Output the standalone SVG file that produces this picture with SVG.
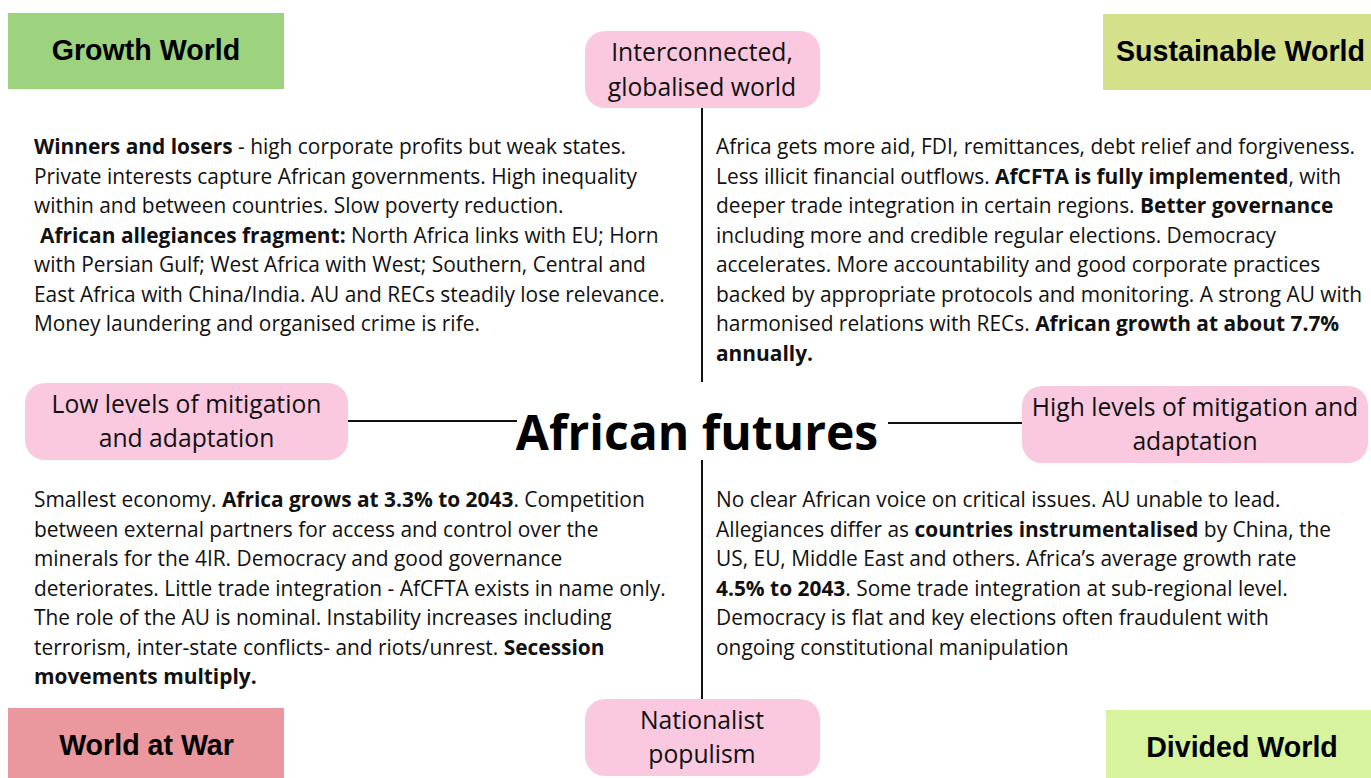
<svg xmlns="http://www.w3.org/2000/svg" width="1371" height="778" viewBox="0 0 1371 778">
  <style>
    .hdr { font-family: "Liberation Sans", Arial, sans-serif; font-weight: bold; font-size: 28.6px; fill: #000; text-anchor: middle; }
    .pill { fill: #fbc9df; }
    .pt { font-family: "Open Sans", "DejaVu Sans", sans-serif; font-size: 24.7px; fill: #111; text-anchor: middle; }
    .body { font-family: "Open Sans", "DejaVu Sans", sans-serif; font-size: 20.9px; fill: #111; }
    .b { font-weight: bold; }
    .title { font-family: "Open Sans", "DejaVu Sans", sans-serif; font-weight: bold; font-size: 48px; fill: #000; text-anchor: middle; }
    .conn { stroke: #111; stroke-width: 2; fill: none; }
  </style>
  <rect width="1371" height="778" fill="#fff"/>

  <!-- connectors from the central title to the four axis labels -->
  <g id="connectors">
    <line class="conn" x1="702" y1="108" x2="702" y2="382"/>
    <line class="conn" x1="702" y1="460" x2="702" y2="699"/>
    <line class="conn" x1="348" y1="421" x2="517" y2="421"/>
    <line class="conn" x1="888" y1="423" x2="1022" y2="423"/>
  </g>

  <g id="title">
    <text class="title" x="697" y="450">African futures</text>
  </g>

  <!-- corner scenario headers -->
  <g id="growth-world">
    <rect x="8" y="13" width="276" height="76" fill="#9dd37f"/>
    <text class="hdr" x="146" y="60">Growth World</text>
  </g>
  <g id="sustainable-world">
    <rect x="1103" y="14" width="268" height="76" fill="#d4e08a"/>
    <text class="hdr" x="1240.5" y="61">Sustainable World</text>
  </g>
  <g id="world-at-war">
    <rect x="8" y="708" width="276" height="70" fill="#ea979e"/>
    <text class="hdr" x="146.5" y="755">World at War</text>
  </g>
  <g id="divided-world">
    <rect x="1106" y="710" width="265" height="68" fill="#d7f39e"/>
    <text class="hdr" x="1242" y="757">Divided World</text>
  </g>

  <!-- axis labels -->
  <g id="interconnected">
    <rect class="pill" x="585" y="31" width="235" height="77" rx="20"/>
    <text class="pt" x="702" y="61">Interconnected,</text>
    <text class="pt" x="702" y="96">globalised world</text>
  </g>
  <g id="nationalist">
    <rect class="pill" x="585" y="699" width="235" height="77" rx="20"/>
    <text class="pt" x="702" y="729">Nationalist</text>
    <text class="pt" x="702" y="763">populism</text>
  </g>
  <g id="low-mitigation">
    <rect class="pill" x="25" y="383" width="323" height="77" rx="20"/>
    <text class="pt" x="186.5" y="413">Low levels of mitigation</text>
    <text class="pt" x="186.5" y="447">and adaptation</text>
  </g>
  <g id="high-mitigation">
    <rect class="pill" x="1022" y="386" width="346" height="77" rx="20"/>
    <text class="pt" x="1195" y="416">High levels of mitigation and</text>
    <text class="pt" x="1195" y="450">adaptation</text>
  </g>

  <!-- scenario descriptions -->
  <g id="growth-text">
    <text class="body" x="34" y="154"><tspan class="b">Winners and losers</tspan> - high corporate profits but weak states.</text>
    <text class="body" x="34" y="183.5">Private interests capture African governments. High inequality</text>
    <text class="body" x="34" y="213">within and between countries. Slow poverty reduction.</text>
    <text class="body" x="34" y="242.5"> <tspan class="b" x="40">African allegiances fragment:</tspan> North Africa links with EU; Horn</text>
    <text class="body" x="34" y="272">with Persian Gulf; West Africa with West; Southern, Central and</text>
    <text class="body" x="34" y="301.5">East Africa with China/India. AU and RECs steadily lose relevance.</text>
    <text class="body" x="34" y="331">Money laundering and organised crime is rife.</text>
  </g>
  <g id="sustainable-text">
    <text class="body" x="716" y="154">Africa gets more aid, FDI, remittances, debt relief and forgiveness.</text>
    <text class="body" x="716" y="183.5">Less illicit financial outflows. <tspan class="b">AfCFTA is fully implemented</tspan>, with</text>
    <text class="body" x="716" y="213">deeper trade integration in certain regions. <tspan class="b">Better governance</tspan></text>
    <text class="body" x="716" y="242.5">including more and credible regular elections. Democracy</text>
    <text class="body" x="716" y="272">accelerates. More accountability and good corporate practices</text>
    <text class="body" x="716" y="301.5">backed by appropriate protocols and monitoring. A strong AU with</text>
    <text class="body" x="716" y="331">harmonised relations with RECs. <tspan class="b">African growth at about 7.7%</tspan></text>
    <text class="body b" x="716" y="360.5">annually.</text>
  </g>
  <g id="war-text">
    <text class="body" x="34" y="507">Smallest economy. <tspan class="b">Africa grows at 3.3% to 2043</tspan>. Competition</text>
    <text class="body" x="34" y="536.5">between external partners for access and control over the</text>
    <text class="body" x="34" y="566">minerals for the 4IR. Democracy and good governance</text>
    <text class="body" x="34" y="595.5">deteriorates. Little trade integration - AfCFTA exists in name only.</text>
    <text class="body" x="34" y="625">The role of the AU is nominal. Instability increases including</text>
    <text class="body" x="34" y="654.5">terrorism, inter-state conflicts- and riots/unrest. <tspan class="b">Secession</tspan></text>
    <text class="body b" x="34" y="684">movements multiply.</text>
  </g>
  <g id="divided-text">
    <text class="body" x="716" y="507">No clear African voice on critical issues. AU unable to lead.</text>
    <text class="body" x="716" y="536.5">Allegiances differ as <tspan class="b">countries instrumentalised</tspan> by China, the</text>
    <text class="body" x="716" y="566">US, EU, Middle East and others. Africa’s average growth rate</text>
    <text class="body" x="716" y="595.5"><tspan class="b">4.5% to 2043</tspan>. Some trade integration at sub-regional level.</text>
    <text class="body" x="716" y="625">Democracy is flat and key elections often fraudulent with</text>
    <text class="body" x="716" y="654.5">ongoing constitutional manipulation</text>
  </g>
</svg>
